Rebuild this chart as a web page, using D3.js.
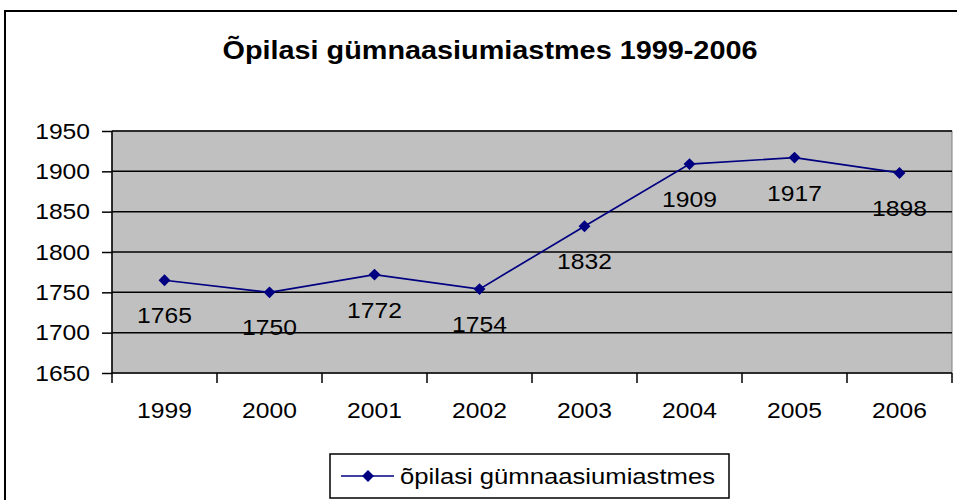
<!DOCTYPE html>
<html>
<head>
<meta charset="utf-8">
<script src="https://cdn.jsdelivr.net/npm/d3@7"></script>
<style>
  body { margin: 0; background: #fff; }
  text { font-family: "Liberation Sans", Arial, sans-serif; }
</style>
</head>
<body>
<script>
// data
var years = ["1999", "2000", "2001", "2002", "2003", "2004", "2005", "2006"];
var students = [1765, 1750, 1772, 1754, 1832, 1909, 1917, 1898];
var yTicks = [1650, 1700, 1750, 1800, 1850, 1900, 1950];
var seriesName = "õpilasi gümnaasiumiastmes";
var title = "Õpilasi gümnaasiumiastmes 1999-2006";

var width = 957, height = 500;
var plot = {left: 112, right: 952, top: 131, bottom: 373};

// the old chart image has slightly wide lettering, stretch text to match
function stretch(sel, factor) {
    sel.each(function() {
        var w = this.getComputedTextLength();
        d3.select(this)
            .attr("textLength", w * factor)
            .attr("lengthAdjust", "spacingAndGlyphs");
    });
}

var svg = d3.select("body").append("svg")
    .attr("width", width)
    .attr("height", height);

// outer chart border
svg.append("rect")
    .attr("x", 5).attr("y", 11)
    .attr("width", 980).attr("height", 520)
    .attr("fill", "#fff")
    .attr("stroke", "#000")
    .attr("stroke-width", 2);

// title
svg.append("text")
    .attr("x", 490).attr("y", 59)
    .attr("text-anchor", "middle")
    .style("font-size", "25.5px")
    .style("font-weight", "bold")
    .text(title)
    .call(stretch, 1.13);

var x = d3.scaleBand()
    .domain(years)
    .range([plot.left, plot.right]);

var y = d3.scaleLinear()
    .domain([1650, 1950])
    .range([plot.bottom, plot.top]);

// plot background
svg.append("rect")
    .attr("x", plot.left).attr("y", plot.top)
    .attr("width", plot.right - plot.left)
    .attr("height", plot.bottom - plot.top)
    .attr("fill", "#c0c0c0")
    .attr("stroke", "#808080")
    .attr("stroke-width", 1);

// gridlines
svg.selectAll(".grid")
    .data(yTicks.filter(function(d) { return d > 1650; }))
    .enter().append("line")
    .attr("class", "grid")
    .attr("x1", plot.left).attr("x2", plot.right)
    .attr("y1", function(d) { return y(d); })
    .attr("y2", function(d) { return y(d); })
    .attr("stroke", "#000")
    .attr("stroke-width", 1.5);

// y axis
var yAxis = svg.append("g")
    .attr("transform", "translate(" + plot.left + ",0)")
    .call(d3.axisLeft(y).tickValues(yTicks).tickSize(10).tickPadding(12).tickFormat(d3.format("d")));
yAxis.selectAll("text").style("font-size", "22px").attr("fill", "#000").call(stretch, 1.12);
yAxis.selectAll("line").attr("stroke", "#000").attr("stroke-width", 1.5);
yAxis.select(".domain").attr("stroke", "#000").attr("stroke-width", 1.5).attr("d", "M0," + plot.top + "V" + plot.bottom);

// x axis: ticks at band boundaries
var xAxis = svg.append("g")
    .attr("transform", "translate(0," + plot.bottom + ")");
xAxis.append("line")
    .attr("x1", plot.left).attr("x2", plot.right)
    .attr("stroke", "#000").attr("stroke-width", 1.5);
var bounds = years.map(function(d) { return x(d); }).concat([plot.right]);
xAxis.selectAll(".xtick")
    .data(bounds)
    .enter().append("line")
    .attr("class", "xtick")
    .attr("x1", function(d) { return d; }).attr("x2", function(d) { return d; })
    .attr("y1", 0).attr("y2", 10)
    .attr("stroke", "#000").attr("stroke-width", 1.5);
xAxis.selectAll(".xlabel")
    .data(years)
    .enter().append("text")
    .attr("class", "xlabel")
    .attr("x", function(d) { return x(d) + x.bandwidth() / 2; })
    .attr("y", 45)
    .attr("text-anchor", "middle")
    .style("font-size", "22px")
    .text(function(d) { return d; })
    .call(stretch, 1.12);

var data = years.map(function(d, i) { return {year: d, value: students[i]}; });

var line = d3.line()
    .x(function(d) { return x(d.year) + x.bandwidth() / 2; })
    .y(function(d) { return y(d.value); });

svg.append("path")
    .datum(data)
    .attr("d", line)
    .attr("fill", "none")
    .attr("stroke", "#000080")
    .attr("stroke-width", 1.7);

var diamond = d3.symbol().type(d3.symbolDiamond2).size(90);

svg.selectAll(".pt")
    .data(data)
    .enter().append("path")
    .attr("class", "pt")
    .attr("d", diamond)
    .attr("transform", function(d) { return "translate(" + (x(d.year) + x.bandwidth() / 2) + "," + y(d.value) + ")"; })
    .attr("fill", "#000080");

// data labels
svg.selectAll(".lbl")
    .data(data)
    .enter().append("text")
    .attr("class", "lbl")
    .attr("x", function(d) { return x(d.year) + x.bandwidth() / 2; })
    .attr("y", function(d) { return y(d.value) + 43; })
    .attr("text-anchor", "middle")
    .style("font-size", "22px")
    .text(function(d) { return d.value; })
    .call(stretch, 1.12);

// legend
var legend = svg.append("g");
legend.append("rect")
    .attr("x", 330).attr("y", 454)
    .attr("width", 399).attr("height", 44)
    .attr("fill", "#fff")
    .attr("stroke", "#000")
    .attr("stroke-width", 1.5);
legend.append("line")
    .attr("x1", 341).attr("x2", 394)
    .attr("y1", 476).attr("y2", 476)
    .attr("stroke", "#000080").attr("stroke-width", 1.7);
legend.append("path")
    .attr("d", diamond)
    .attr("transform", "translate(368,476)")
    .attr("fill", "#000080");
legend.append("text")
    .attr("x", 400).attr("y", 484)
    .style("font-size", "22px")
    .text(seriesName)
    .attr("textLength", 315)
    .attr("lengthAdjust", "spacingAndGlyphs");
</script>
</body>
</html>
